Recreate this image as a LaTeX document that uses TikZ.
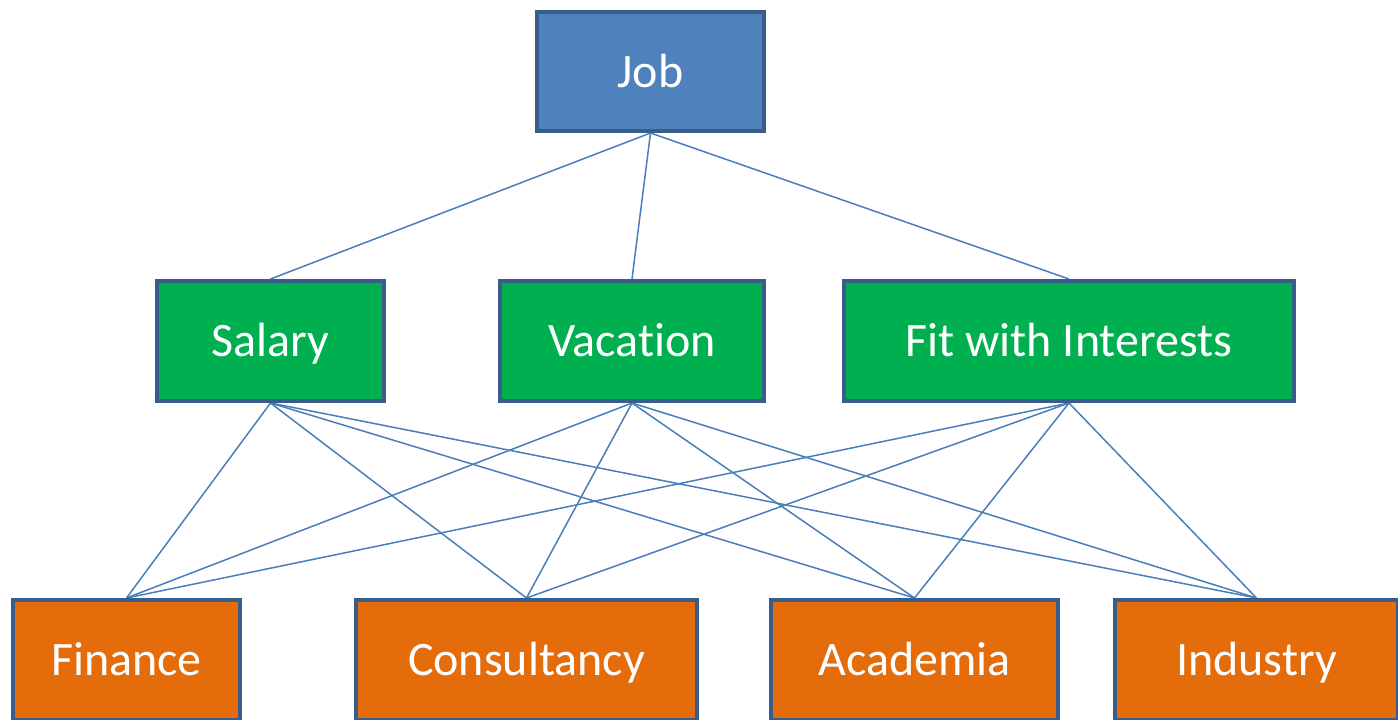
\documentclass[tikz,border=0pt]{standalone}
\usepackage{fontspec}
\setmainfont[Ligatures={NoCommon}]{Carlito}
\usetikzlibrary{backgrounds}
\definecolor{boxline}{HTML}{385D8A}
\definecolor{linkblue}{HTML}{4A7EBB}
\definecolor{topfill}{HTML}{4F81BD}
\definecolor{midfill}{HTML}{00B050}
\definecolor{lowfill}{HTML}{E46C0A}
\tikzset{
  box/.style={draw=boxline, line width=4pt, text=white, inner sep=0pt,
    font=\fontsize{48}{54}\selectfont, text height=31pt, text depth=0pt,
    minimum height=120pt},
  goal/.style={box, fill=topfill},
  criterion/.style={box, fill=midfill},
  option/.style={box, fill=lowfill},
  link/.style={draw=linkblue, line width=1.5pt}
}
\begin{document}
\begin{tikzpicture}[x=1pt,y=-1pt]
\useasboundingbox (0,0) rectangle (1398,720);
\clip (0,0) rectangle (1398,720);
% goal
\node[goal, minimum width=227pt, minimum height=119pt] (job) at (650.5,71.5) {Job};
% criteria
\node[criterion, minimum width=227pt] (salary) at (270.5,341) {Salary};
\node[criterion, minimum width=264pt] (vacation) at (632,341) {Vacation};
\node[criterion, minimum width=450pt] (fit) at (1069,341) {Fit with Interests};
% alternatives
\node[option, minimum width=227pt] (finance) at (126.5,660) {Finance};
\node[option, minimum width=341pt] (consult) at (526.5,660) {Consultancy};
\node[option, minimum width=287pt] (academia) at (914.5,660) {Academia};
\node[option, minimum width=283pt] (industry) at (1256.5,660) {Industry};
% connectors
\begin{scope}[on background layer]
  \foreach \c in {salary,vacation,fit}
    \draw[link] (job.south) -- (\c.north);
  \foreach \c in {salary,vacation,fit}
    \foreach \a in {finance,consult,academia,industry}
      \draw[link] (\c.south) -- (\a.north);
\end{scope}
\end{tikzpicture}
\end{document}
